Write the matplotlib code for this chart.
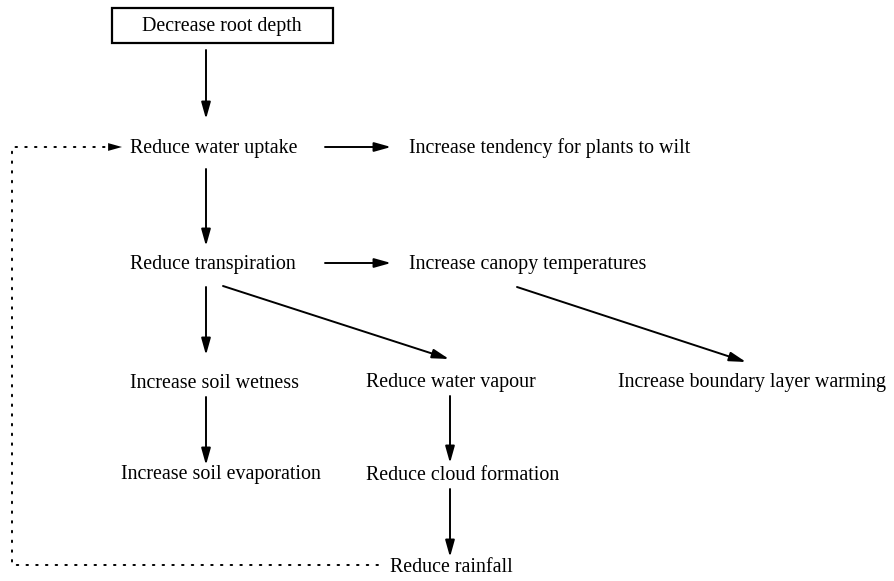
import matplotlib.pyplot as plt
from matplotlib.patches import Rectangle

plt.rcParams['font.family'] = ['Liberation Serif', 'DejaVu Serif']

# node labels
labels = [
    "Decrease root depth",
    "Reduce water uptake",
    "Increase tendency for plants to wilt",
    "Reduce transpiration",
    "Increase canopy temperatures",
    "Increase soil wetness",
    "Reduce water vapour",
    "Increase boundary layer warming",
    "Increase soil evaporation",
    "Reduce cloud formation",
    "Reduce rainfall",
]

# links between nodes (from, to)
links = [
    ("Decrease root depth", "Reduce water uptake"),
    ("Reduce water uptake", "Increase tendency for plants to wilt"),
    ("Reduce water uptake", "Reduce transpiration"),
    ("Reduce transpiration", "Increase canopy temperatures"),
    ("Reduce transpiration", "Increase soil wetness"),
    ("Reduce transpiration", "Reduce water vapour"),
    ("Increase canopy temperatures", "Increase boundary layer warming"),
    ("Increase soil wetness", "Increase soil evaporation"),
    ("Reduce water vapour", "Reduce cloud formation"),
    ("Reduce cloud formation", "Reduce rainfall"),
]

# layout (pixel space of the figure): text anchor, left aligned except the boxed one
pos = {
    "Decrease root depth": (222, 26, 'center'),
    "Reduce water uptake": (130, 148, 'left'),
    "Increase tendency for plants to wilt": (409, 148, 'left'),
    "Reduce transpiration": (130, 265, 'left'),
    "Increase canopy temperatures": (409, 265, 'left'),
    "Increase soil wetness": (130, 383, 'left'),
    "Reduce water vapour": (366, 383, 'left'),
    "Increase boundary layer warming": (618, 382, 'left'),
    "Increase soil evaporation": (121, 475, 'left'),
    "Reduce cloud formation": (366, 475, 'left'),
    "Reduce rainfall": (390, 567, 'left'),
}

# arrow start / end for each link
arrow_xy = {
    ("Decrease root depth", "Reduce water uptake"): ((206, 50), (206, 119)),
    ("Reduce water uptake", "Increase tendency for plants to wilt"): ((325, 147), (391, 147)),
    ("Reduce water uptake", "Reduce transpiration"): ((206, 169), (206, 246)),
    ("Reduce transpiration", "Increase canopy temperatures"): ((325, 263), (391, 263)),
    ("Reduce transpiration", "Increase soil wetness"): ((206, 287), (206, 355)),
    ("Reduce transpiration", "Reduce water vapour"): ((223, 286), (449, 359)),
    ("Increase canopy temperatures", "Increase boundary layer warming"): ((517, 287), (746, 362)),
    ("Increase soil wetness", "Increase soil evaporation"): ((206, 397), (206, 465)),
    ("Reduce water vapour", "Reduce cloud formation"): ((450, 396), (450, 463)),
    ("Reduce cloud formation", "Reduce rainfall"): ((450, 489), (450, 557)),
}

fig = plt.figure(figsize=(8.95, 5.81), dpi=100)
ax = fig.add_axes([0, 0, 1, 1])
ax.set_xlim(0, 895)
ax.set_ylim(581, 0)
ax.axis('off')

fs = 14.4
for lab in labels:
    x, y, ha = pos[lab]
    ax.text(x, y, lab, ha=ha, va='center', fontsize=fs, color='black')

# box round the starting node
ax.add_patch(Rectangle((112, 8), 221, 35, fill=False, lw=1.6, ec='black'))

head = '-|>,head_length=1.0,head_width=0.28'
arrow_style = dict(arrowstyle=head, color='black', lw=1.4, shrinkA=0, shrinkB=0)
for link in links:
    p0, p1 = arrow_xy[link]
    ax.annotate('', xy=p1, xytext=p0, arrowprops=arrow_style)

# dotted feedback loop from rainfall back to water uptake
ax.plot([378, 12, 12, 108], [565, 565, 147, 147], color='black', lw=1.4,
        linestyle=(0, (0.8, 4.2)), dash_capstyle='round')
ax.annotate('', xy=(122, 147), xytext=(106, 147),
            arrowprops=dict(arrowstyle=head, color='black', lw=0, shrinkA=0, shrinkB=0))

fig.savefig('out.png', dpi=100)
